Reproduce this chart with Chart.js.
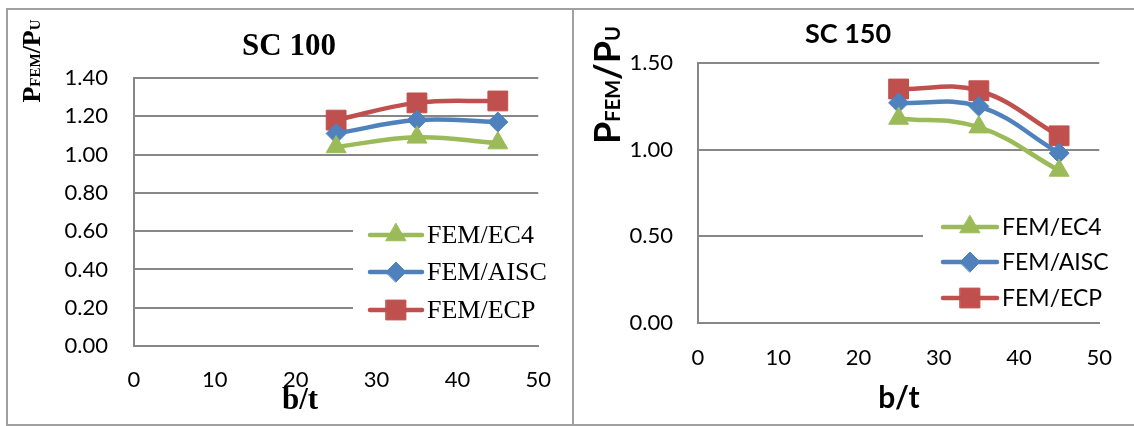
<!DOCTYPE html>
<html>
<head>
<meta charset="utf-8">
<script src="https://cdn.jsdelivr.net/npm/chart.js@4/dist/chart.umd.min.js"></script>
<style>
  body { margin: 0; background: #fff; }
  #wrap { position: relative; width: 1134px; height: 426px; overflow: hidden; }
  canvas { position: absolute; top: 0; }
  .ln { position: absolute; background: #a0a0a0; }
</style>
</head>
<body>
<div id="wrap">
  <canvas id="c100" width="572" height="426" style="left:0"></canvas>
  <canvas id="c150" width="560" height="426" style="left:574px"></canvas>
  <div class="ln" style="left:6px;top:8px;width:1128px;height:2px"></div>
  <div class="ln" style="left:6px;top:8px;width:2px;height:418px"></div>
  <div class="ln" style="left:6px;top:424px;width:1128px;height:2px"></div>
  <div class="ln" style="left:572px;top:8px;width:2px;height:418px"></div>
</div>
<script>
// b/t values
const bt = [25, 35, 45];
const seriesNames = ["FEM/EC4", "FEM/AISC", "FEM/ECP"];

// SC 100
const sc100Ec4 = [1.04, 1.09, 1.06];
const sc100Aisc = [1.11, 1.18, 1.17];
const sc100Ecp = [1.18, 1.27, 1.28];

// SC 150
const sc150Ec4 = [1.18, 1.13, 0.88];
const sc150Aisc = [1.27, 1.25, 0.98];
const sc150Ecp = [1.35, 1.34, 1.08];

const xTicks = [0, 10, 20, 30, 40, 50];
const yTicks100 = [0, 0.2, 0.4, 0.6, 0.8, 1.0, 1.2, 1.4];
const yTicks150 = [0, 0.5, 1.0, 1.5];

const colors = ["#9bbb59", "#4f81bd", "#c0504d"];
const pStyles = ["triangle", "rectRot", "rect"];
const pRadius = [11.5, 10, 14];
const gridCol = "#878787";

function makeSets(vals) {
    return vals.map(function (v, i) {
        return {
            label: seriesNames[i],
            data: bt.map(function (x, j) { return { x: x, y: v[j] }; }),
            borderColor: colors[i],
            backgroundColor: colors[i],
            borderWidth: 4.5,
            pointStyle: pStyles[i],
            pointRadius: pRadius[i],
            pointBorderWidth: 1,
            tension: 0.4
        };
    });
}

function drawMarker(ctx, i, x, y) {
    Chart.helpers.drawPoint(ctx, { pointStyle: pStyles[i], radius: pRadius[i], rotation: 0, borderWidth: 1 }, x, y);
}

// titles, y title with small letters, legend box
function decorPlugin(o) {
    return {
        id: "decor",
        beforeDatasetsDraw: function (chart) {
            const ctx = chart.ctx;
            ctx.save();
            ctx.fillStyle = "#fff";
            ctx.fillRect(o.legend.x, o.legend.y, o.legend.w, o.legend.h);
            chart.data.datasets.forEach(function (ds, i) {
                const ly = o.legend.rows[i];
                ctx.strokeStyle = ds.borderColor;
                ctx.lineWidth = 4.5;
                ctx.lineCap = "round";
                ctx.beginPath();
                ctx.moveTo(o.legend.lx0, ly);
                ctx.lineTo(o.legend.lx1, ly);
                ctx.stroke();
                ctx.fillStyle = ds.backgroundColor;
                ctx.strokeStyle = ds.borderColor;
                ctx.lineWidth = 1;
                drawMarker(ctx, i, (o.legend.lx0 + o.legend.lx1) / 2, ly);
                ctx.fillStyle = "#000";
                ctx.font = o.legend.font;
                ctx.textAlign = "left";
                ctx.textBaseline = "middle";
                ctx.fillText(ds.label, o.legend.tx, ly + 1);
            });
            ctx.restore();
        },
        afterDraw: function (chart) {
            const ctx = chart.ctx;
            ctx.save();
            ctx.fillStyle = "#000";
            ctx.textAlign = "center";
            ctx.textBaseline = "middle";
            ctx.font = o.titleFont;
            ctx.fillText(o.title, o.titleX, o.titleY);
            ctx.font = o.xTitleFont;
            ctx.fillText("b/t", o.xTitleX, o.xTitleY);

            // y title, rotated
            ctx.translate(o.yBase, o.yMid);
            ctx.rotate(-Math.PI / 2);
            ctx.textAlign = "left";
            ctx.textBaseline = "alphabetic";
            const parts = [["P", o.yBig], ["FEM", o.ySmall], ["/", o.yBig], ["P", o.yBig], ["U", o.ySmall]];
            let total = 0;
            parts.forEach(function (p) { ctx.font = p[1]; total += ctx.measureText(p[0]).width; });
            let x = -total / 2;
            parts.forEach(function (p) {
                ctx.font = p[1];
                ctx.fillText(p[0], x, 0);
                x += ctx.measureText(p[0]).width;
            });
            ctx.restore();
        }
    };
}

function buildChart(id, vals, yTicks, yMax, box, deco) {
    return new Chart(document.getElementById(id), {
        type: "line",
        data: { datasets: makeSets(vals) },
        options: {
            responsive: false,
            animation: false,
            events: [],
            layout: { padding: { left: 0, top: box.top, right: box.right, bottom: 0 } },
            plugins: { legend: { display: false }, tooltip: { enabled: false } },
            scales: {
                x: {
                    type: "linear",
                    min: xTicks[0],
                    max: xTicks[xTicks.length - 1],
                    afterBuildTicks: function (s) { s.ticks = xTicks.map(function (v) { return { value: v }; }); },
                    grid: { display: false, drawTicks: false },
                    border: { display: true, color: gridCol, width: 2 },
                    ticks: { color: "#000", font: { family: "Lato", size: 22 }, padding: box.xPad, maxRotation: 0 },
                    afterFit: function (s) { s.height = box.xH; }
                },
                y: {
                    min: 0,
                    max: yMax,
                    afterBuildTicks: function (s) { s.ticks = yTicks.map(function (v) { return { value: v }; }); },
                    grid: { color: gridCol, lineWidth: 2, drawTicks: false },
                    border: { display: true, color: gridCol, width: 2 },
                    ticks: {
                        color: "#000",
                        font: { family: "Lato", size: 22 },
                        padding: box.yPad,
                        callback: function (v) { return Number(v).toFixed(2); }
                    },
                    afterFit: function (s) { s.width = box.yW; }
                }
            }
        },
        plugins: [decorPlugin(deco)]
    });
}

buildChart("c100", [sc100Ec4, sc100Aisc, sc100Ecp], yTicks100, 1.4,
    { top: 78, right: 29, xH: 80, yW: 134, xPad: 21, yPad: 26 },
    {
        title: "SC 100", titleFont: "bold 31px 'Liberation Serif'", titleX: 289, titleY: 47,
        xTitleFont: "bold 31px 'Liberation Serif'", xTitleX: 300, xTitleY: 401,
        yBase: 40, yMid: 61, yBig: "bold 26px 'Liberation Serif'", ySmall: "bold 15px 'Liberation Serif'",
        legend: { x: 353, y: 212, w: 219, h: 118, rows: [235, 272, 310], lx0: 370, lx1: 422, tx: 427,
                  font: "26px 'Liberation Serif'" }
    });

buildChart("c150", [sc150Ec4, sc150Aisc, sc150Ecp], yTicks150, 1.5,
    { top: 63, right: 24, xH: 103, yW: 124, xPad: 22, yPad: 25 },
    {
        title: "SC 150", titleFont: "bold 27px Lato", titleX: 274, titleY: 34,
        xTitleFont: "bold 30px Lato", xTitleX: 325, xTitleY: 398,
        yBase: 46, yMid: 85, yBig: "bold 36px Lato", ySmall: "bold 20px Lato",
        legend: { x: 349, y: 205, w: 211, h: 114, rows: [227, 262, 298], lx0: 369, lx1: 423, tx: 428,
                  font: "23px Lato" }
    });
</script>
</body>
</html>
